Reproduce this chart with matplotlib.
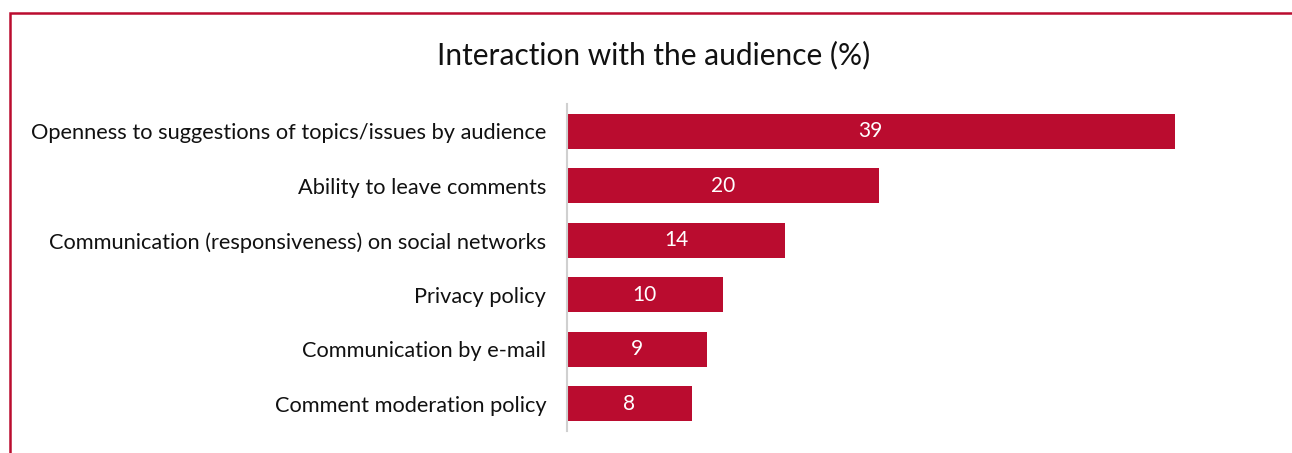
import matplotlib.pyplot as plt
from matplotlib.patches import Rectangle

categories = [
    "Openness to suggestions of topics/issues by audience",
    "Ability to leave comments",
    "Communication (responsiveness) on social networks",
    "Privacy policy",
    "Communication by e-mail",
    "Comment moderation policy",
]
values = [39, 20, 14, 10, 9, 8]

red = "#BA0C2F"
plt.rcParams["font.family"] = ["Lato", "DejaVu Sans"]

fig = plt.figure(figsize=(12.92, 4.53), dpi=100)
W, H = 1292, 453

# red frame around the chart, running off the right and bottom edges
fig.patches.append(Rectangle((10 / W, -0.1), 1.2, (H - 13) / H + 0.1,
                             transform=fig.transFigure, fill=False,
                             edgecolor=red, linewidth=1.8))

ax = fig.add_axes([567 / W, 22 / H, 701 / W, 327 / H])
pos = range(len(categories))
bars = ax.barh(pos, values, height=0.64, color=red)
for b, v in zip(bars, values):
    ax.text(v / 2, b.get_y() + b.get_height() / 2, str(v), ha="center",
            va="center", color="white", fontsize=15)

ax.set_xlim(0, 45)
ax.set_ylim(5.5, -0.5)
ax.set_yticks(list(pos))
ax.set_yticklabels(categories, fontsize=15.7, color="#111111")
ax.tick_params(axis="y", length=0, pad=15)
ax.set_xticks([])
for s in ["top", "right", "bottom"]:
    ax.spines[s].set_visible(False)
ax.spines["left"].set_color("#d0d0d0")
ax.spines["left"].set_linewidth(1.5)

fig.text(654 / W, 1 - 55 / H, "Interaction with the audience (%)",
         ha="center", va="center", fontsize=21.5, color="#111111")

fig.savefig("out.png", dpi=100)
